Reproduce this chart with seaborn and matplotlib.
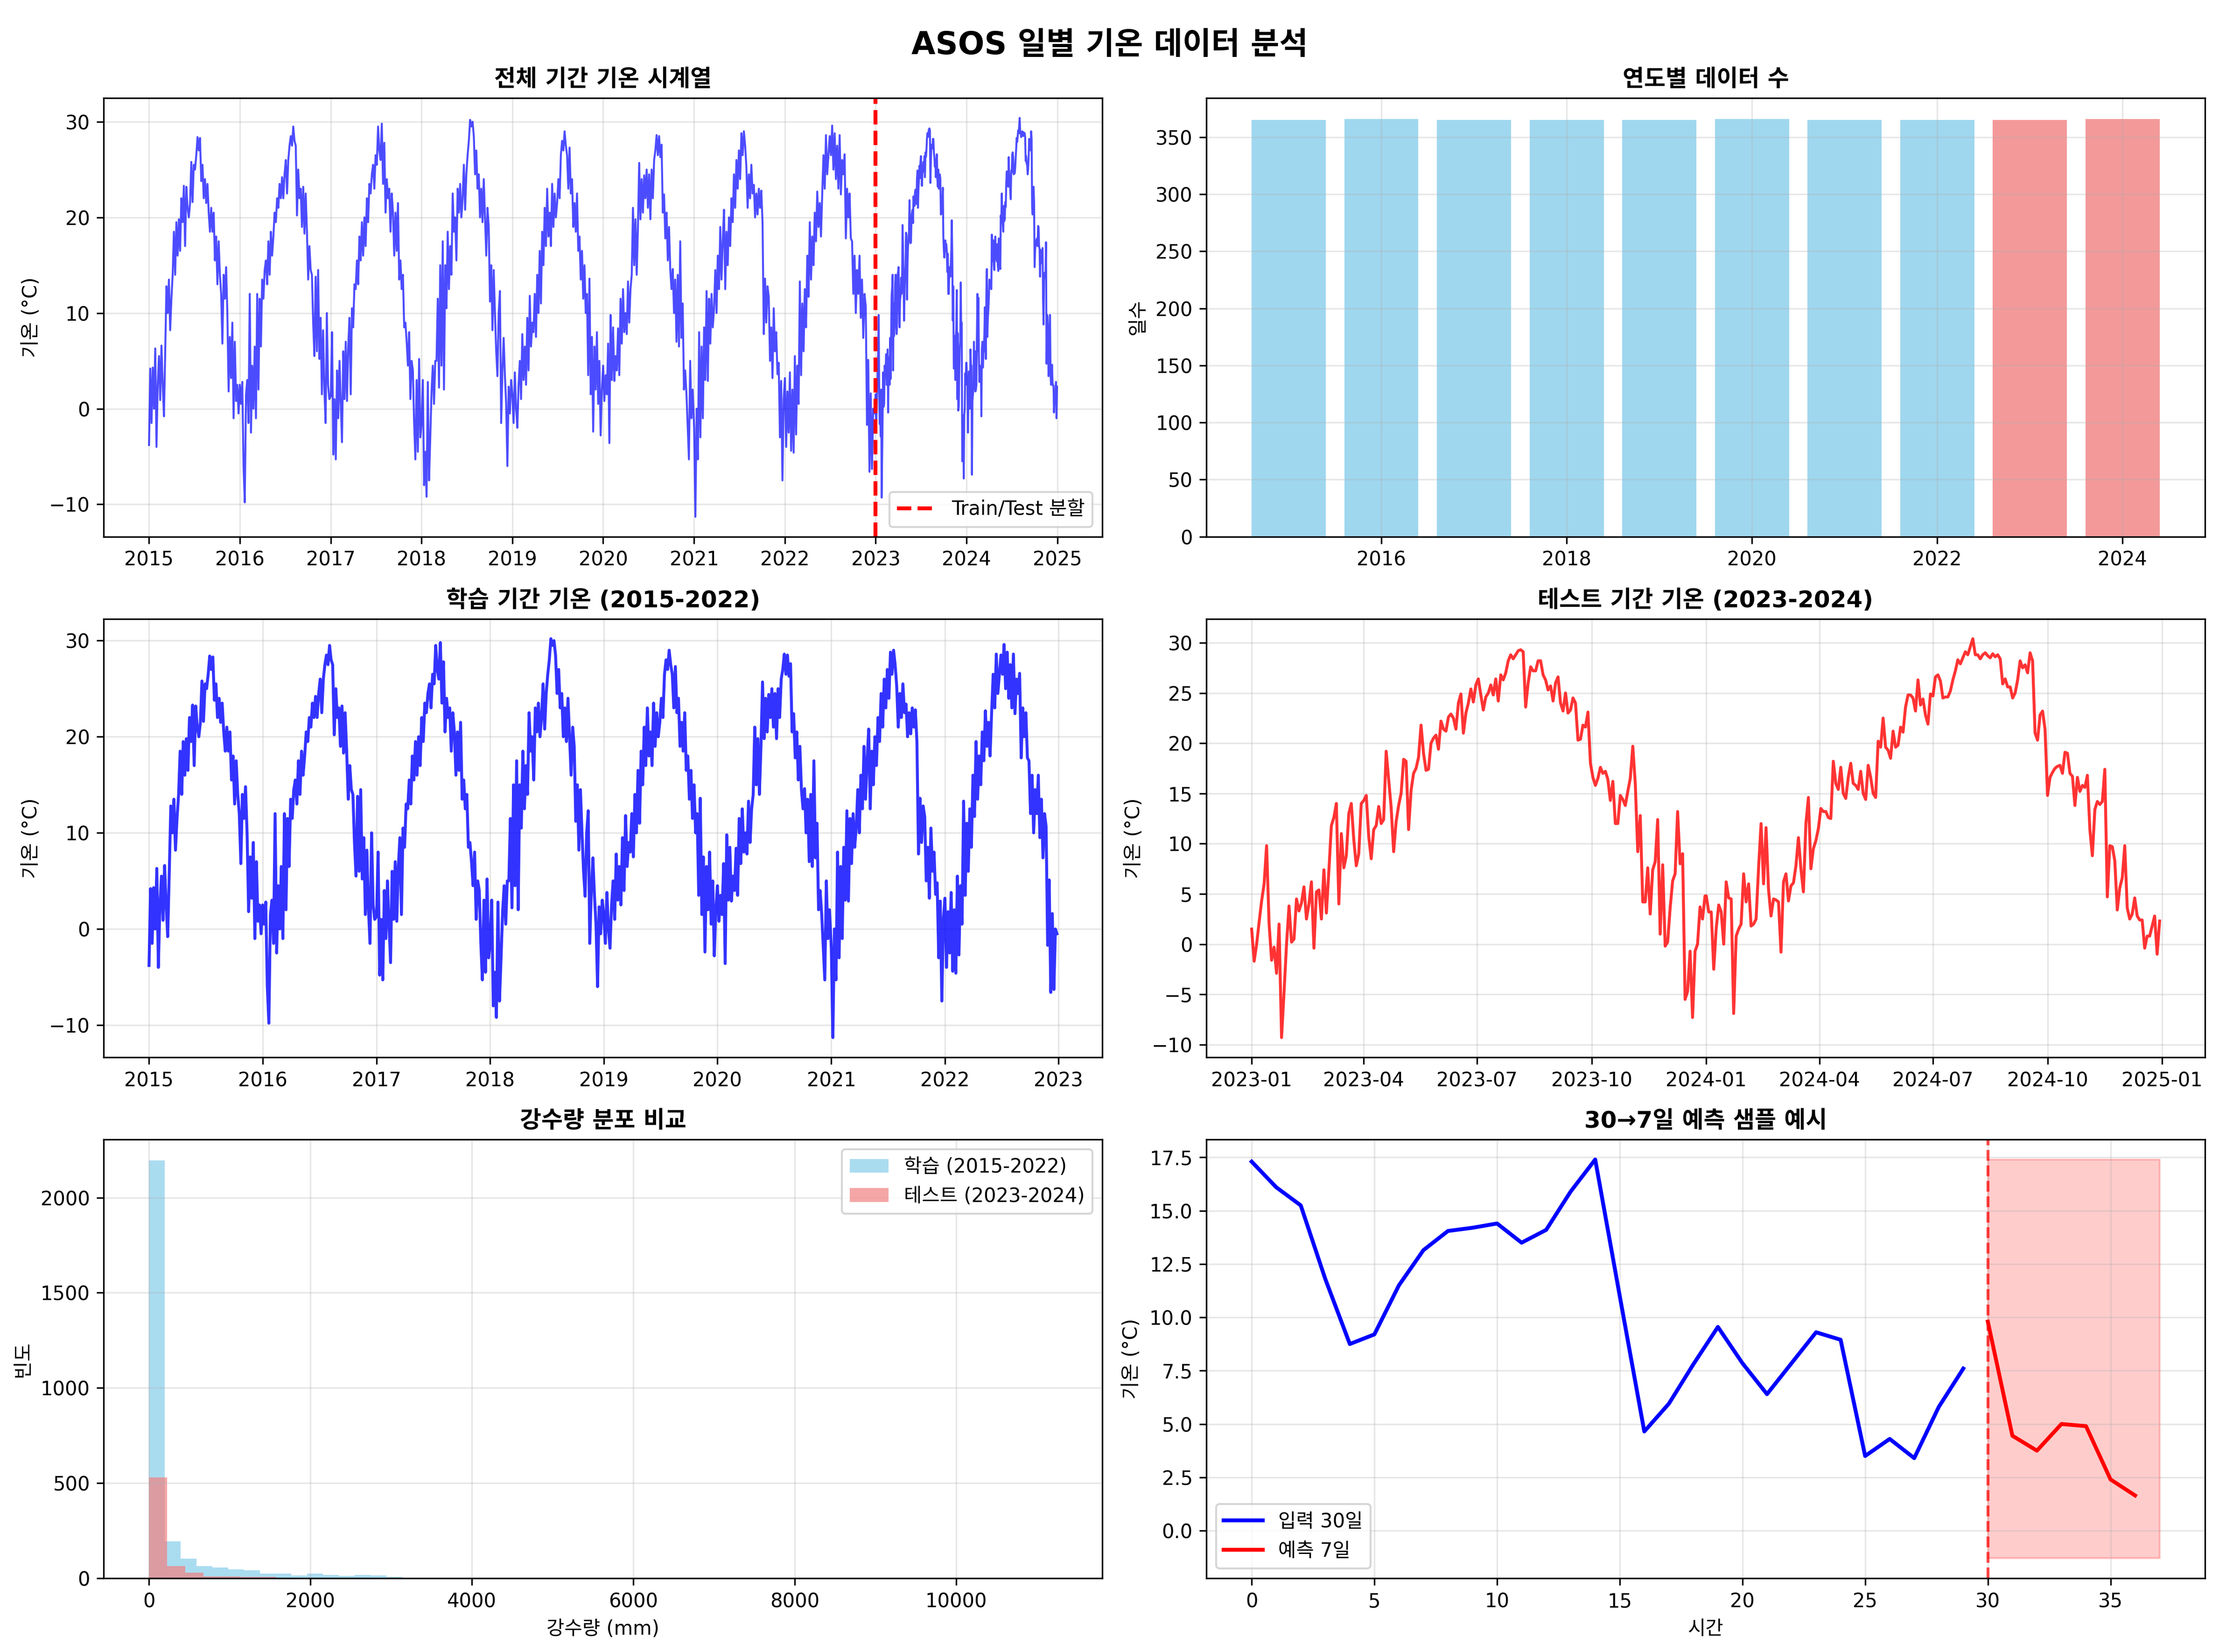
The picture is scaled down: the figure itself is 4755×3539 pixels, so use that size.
import numpy as np
import pandas as pd
import matplotlib
matplotlib.use("Agg")
import matplotlib.pyplot as plt
import seaborn as sns

plt.rcParams['font.family'] = ['DejaVu Sans', 'Noto Sans CJK KR']
plt.rcParams['axes.unicode_minus'] = True

# ---------------- DATA ----------------
# Daily mean temperature, read every 5 days (training period 2015-2022)
temp_2015 = [-3.8, 4.2, -1.5, 4.3, 0.0, 6.3, -4.0, 2.5, 5.5, 0.9, 6.6, 2.5,
             -0.8, 5.8, 12.8, 10.0, 13.5, 8.2, 11.5, 14.0, 18.5, 14.0, 19.5, 16.0,
             19.8, 16.5, 22.0, 19.5, 23.3, 17.0, 23.2, 21.0, 20.0, 21.5, 25.8, 21.6,
             25.5, 25.0, 26.5, 28.4, 27.0, 28.3, 23.8, 25.5, 22.0, 24.0, 21.5, 23.5,
             20.5, 18.5, 21.0, 18.5, 20.5, 15.5, 18.0, 13.0, 17.5, 14.0, 12.0, 6.8,
             14.0, 11.5, 14.8, 10.0, 1.8, 7.5, 3.2, 9.0, -1.0, 7.0, 0.8, 2.5, -0.5]
temp_2016 = [2.5, 0.5, 2.8, -6.0, -9.8, 1.5, 3.0, -1.5, 12.0, -2.5, 4.5, 0.0,
             6.5, -1.0, 12.0, 2.0, 11.5, 6.5, 13.5, 11.5, 14.5, 15.5, 13.0, 17.5,
             14.0, 18.5, 16.0, 18.0, 20.5, 19.5, 22.0, 21.0, 23.5, 22.0, 24.2, 22.0,
             24.5, 26.0, 22.5, 26.0, 27.5, 28.5, 27.5, 29.5, 28.0, 27.5, 20.2, 25.0,
             22.0, 23.0, 19.0, 23.2, 18.3, 22.5, 18.5, 13.5, 17.0, 14.5, 14.0, 9.0,
             5.5, 13.8, 6.0, 14.5, 5.2, 9.5, 1.5, 8.2, 2.0, -1.5, 10.0, 2.5, 1.0]
temp_2017 = [1.3, 8.0, -4.8, 1.0, -5.3, 4.0, -1.0, 5.0, 0.5, -3.5, 6.0, 1.0,
             7.0, 0.8, 6.5, 9.5, 1.5, 10.5, 8.5, 13.0, 12.5, 15.5, 13.0, 18.0,
             15.5, 19.5, 16.0, 20.0, 17.0, 22.0, 19.5, 23.5, 22.5, 24.5, 25.5, 23.0,
             26.5, 25.5, 29.5, 27.0, 26.0, 29.8, 23.5, 27.8, 20.5, 24.0, 22.0, 23.0,
             18.5, 22.5, 20.5, 16.0, 20.5, 16.5, 21.5, 13.5, 15.5, 12.5, 14.0, 8.5,
             9.0, 7.0, 4.5, 8.0, 1.0, 5.0, 4.0, -1.5, -5.3, 3.0, -4.5, 5.2, -3.0]
temp_2018 = [-1.5, 3.0, -8.0, -4.5, -9.2, 2.8, -7.5, -3.0, 1.8, 4.5, 0.5, 5.0,
             5.0, 11.5, 2.2, 15.0, 4.5, 17.5, 2.0, 15.0, 10.5, 18.5, 12.5, 17.0,
             14.0, 22.5, 18.5, 20.0, 15.5, 23.0, 20.5, 23.5, 20.0, 22.0, 25.5, 20.8,
             24.5, 26.5, 28.0, 30.2, 29.5, 30.0, 28.5, 24.5, 27.0, 23.0, 24.5, 20.0,
             23.0, 19.5, 24.0, 20.0, 16.0, 21.0, 19.0, 11.2, 15.0, 8.2, 14.5, 10.0,
             6.0, 3.4, 10.0, 12.3, -1.5, 4.0, 7.4, 3.5, 0.5, -6.0, 2.3, -0.5, 3.0]
temp_2019 = [1.5, -1.5, 3.8, 0.0, -2.0, 2.5, 5.0, 1.0, 7.8, 3.0, 6.5, 2.5,
             9.5, 4.0, 11.8, 6.5, 9.0, 8.0, 12.0, 7.5, 14.0, 10.0, 16.5, 11.0,
             18.5, 15.0, 21.0, 17.0, 23.0, 18.0, 20.5, 17.0, 23.5, 19.0, 22.5, 20.0,
             21.5, 24.0, 22.0, 26.5, 28.0, 27.0, 29.0, 27.5, 26.5, 23.0, 27.3, 22.5,
             24.0, 19.0, 21.5, 18.5, 22.5, 16.5, 18.0, 13.5, 16.5, 11.5, 15.0, 10.0,
             12.0, 3.5, 13.6, 1.5, 7.5, -2.4, 6.5, 2.0, 8.0, 0.5, 5.0, -2.8, 2.0]
temp_2020 = [4.5, 0.8, 3.5, 1.5, 6.8, -3.6, 9.8, 3.0, 8.5, 2.9, 5.5, 4.0,
             8.4, 3.5, 11.5, 6.8, 12.5, 8.0, 10.0, 7.8, 13.3, 9.0, 12.5, 14.0,
             21.0, 15.0, 19.8, 14.0, 19.0, 25.7, 19.8, 24.0, 20.5, 24.4, 22.0, 25.0,
             21.0, 24.5, 19.8, 25.0, 22.0, 26.0, 27.0, 28.6, 26.5, 28.5, 26.3, 27.6,
             20.5, 22.4, 17.8, 20.5, 15.5, 19.0, 14.5, 12.5, 14.6, 10.0, 13.5, 7.0,
             14.0, 6.5, 17.5, 7.4, 11.0, 2.0, 4.0, 1.6, -1.8, -5.3, 5.0, -1.0, 2.0]
temp_2021 = [-2.0, -11.3, 0.0, -5.3, 8.0, -3.0, 6.5, -1.0, 8.5, 3.0, 12.3, 2.9,
             11.5, 6.8, 12.0, 8.5, 10.5, 14.5, 10.0, 16.0, 12.5, 19.0, 13.5, 17.5,
             20.8, 12.5, 18.5, 15.0, 20.0, 17.0, 22.0, 19.5, 24.5, 21.0, 26.0, 23.0,
             27.0, 24.0, 28.8, 26.5, 29.0, 27.5, 25.3, 21.0, 24.5, 22.0, 25.5, 22.5,
             23.4, 20.0, 22.5, 20.3, 23.0, 21.0, 22.8, 19.5, 7.8, 13.6, 9.0, 12.8,
             11.7, 5.0, 8.5, 3.2, 10.5, 6.0, 8.0, 3.6, 4.8, -3.0, 2.9, -7.5, 1.0]
temp_2022 = [3.2, -4.0, 1.8, -2.5, 3.8, -4.4, 2.0, -4.6, 5.5, -2.7, 4.5, 0.5,
             13.3, 3.5, 11.0, 6.0, 12.5, 8.5, 16.0, 11.7, 19.5, 13.5, 18.0, 15.0,
             20.5, 17.5, 22.7, 19.0, 21.5, 18.0, 22.5, 26.5, 23.0, 28.6, 24.5, 26.5,
             28.5, 26.5, 29.6, 25.0, 28.8, 24.0, 27.5, 23.0, 28.6, 22.4, 26.0, 24.5,
             26.6, 17.8, 23.0, 20.0, 22.5, 17.8, 17.5, 12.0, 16.0, 10.0, 14.5, 12.0,
             16.0, 9.5, 13.5, 7.4, 12.0, 10.7, -1.7, 5.1, -6.6, 1.6, -6.3, 0.0, -0.5]
train_years = [2015, 2016, 2017, 2018, 2019, 2020, 2021, 2022]
train_by_year = [temp_2015, temp_2016, temp_2017, temp_2018,
                 temp_2019, temp_2020, temp_2021, temp_2022]

# Test period, read every 2 days
temp_2023 = [1.5, -1.7, 0.0, 2.2, 4.3, 6.0, 9.8, 2.0, -1.6, -0.3,
             -2.9, 2.0, -9.3, -4.8, 0.0, 3.8, 0.2, 0.5, 4.5, 3.3,
             4.1, 5.7, 2.5, 4.0, 6.2, -0.4, 5.2, 5.4, 2.5, 7.4,
             3.1, 7.3, 11.8, 12.6, 14.0, 4.0, 11.0, 7.6, 8.8, 13.0,
             14.0, 10.4, 7.8, 9.0, 14.0, 14.3, 14.8, 10.7, 8.5, 11.4,
             11.8, 13.7, 12.0, 12.4, 19.2, 16.4, 13.6, 9.2, 12.2, 13.8,
             15.0, 18.4, 18.2, 11.4, 15.3, 17.0, 17.5, 18.6, 21.8, 19.0,
             17.3, 17.4, 20.0, 20.5, 20.8, 19.4, 22.2, 21.4, 21.2, 22.6,
             22.9, 22.5, 21.4, 24.0, 24.9, 21.0, 23.0, 24.0, 25.4, 24.1,
             25.8, 26.4, 24.8, 23.3, 24.6, 25.0, 25.8, 24.8, 26.4, 24.2,
             26.8, 26.3, 27.0, 28.2, 28.8, 28.4, 28.8, 29.2, 29.3, 29.1,
             23.6, 26.0, 27.6, 27.2, 27.2, 28.2, 28.2, 26.8, 26.3, 25.3,
             25.7, 24.2, 26.0, 26.6, 24.0, 23.2, 25.0, 23.0, 23.3, 24.5,
             24.0, 20.3, 20.4, 21.8, 21.6, 23.1, 18.0, 16.6, 15.8, 16.5,
             17.6, 17.0, 17.2, 16.4, 14.3, 16.2, 12.0, 12.0, 14.8, 14.4,
             13.8, 15.2, 16.5, 19.7, 16.0, 9.2, 12.8, 4.2, 4.2, 7.6,
             3.0, 7.4, 8.2, 12.4, 1.0, 7.9, -0.2, 0.2, 3.6, 6.3,
             7.0, 13.2, 8.0, 9.0, -5.5, -4.7, -0.7, -7.3, -0.7, 0.0,
             3.7, 2.5, 4.8]
temp_2024 = [4.8, 3.2, 3.2, -2.5, 1.6, 3.9, 3.2, 0.0, 6.2, 4.6,
             4.5, -6.9, 0.8, 1.5, 2.0, 7.0, 4.2, 6.0, 1.8, 2.0,
             2.5, 7.6, 12.0, 6.0, 11.6, 5.4, 2.8, 4.5, 4.4, 4.2,
             -0.8, 6.2, 7.0, 4.3, 5.8, 6.1, 7.8, 10.6, 7.5, 5.2,
             12.0, 14.6, 7.5, 9.5, 10.3, 11.5, 13.5, 13.2, 13.2, 12.6,
             12.5, 18.2, 16.0, 15.4, 17.6, 15.0, 14.5, 16.6, 18.0, 16.0,
             15.8, 15.4, 17.2, 15.0, 14.4, 17.8, 16.6, 15.0, 14.6, 20.2,
             19.6, 22.5, 19.6, 19.3, 18.5, 21.2, 19.6, 19.8, 21.6, 21.1,
             23.6, 24.8, 24.8, 24.5, 23.2, 26.3, 23.8, 24.4, 22.8, 21.9,
             24.9, 24.7, 26.6, 26.8, 26.2, 24.5, 24.6, 24.6, 25.2, 26.3,
             27.2, 28.3, 27.9, 28.5, 29.1, 28.8, 29.6, 30.4, 28.8, 28.8,
             28.4, 28.8, 29.0, 28.7, 28.5, 28.9, 28.6, 28.8, 28.4, 25.9,
             26.4, 25.6, 25.6, 24.5, 25.0, 26.3, 28.2, 27.5, 27.8, 27.0,
             29.0, 28.2, 21.0, 20.3, 22.8, 23.2, 21.4, 14.8, 16.6, 17.1,
             17.5, 17.7, 17.8, 17.0, 19.1, 19.0, 17.0, 16.7, 13.8, 16.6,
             15.2, 15.8, 15.6, 16.8, 11.4, 8.8, 13.4, 14.2, 13.9, 14.2,
             17.4, 4.7, 9.8, 9.7, 8.3, 3.4, 5.6, 6.6, 9.8, 3.6,
             2.5, 3.0, 4.6, 2.8, 2.4, 2.4, -0.4, 0.8, 0.8, 1.8,
             2.8, -1.0, 2.3]
test_years = [2023, 2024]
test_by_year = [temp_2023, temp_2024]

# Number of records per year
count_years = [2015, 2016, 2017, 2018, 2019, 2020, 2021, 2022, 2023, 2024]
count_days = [365, 366, 365, 365, 365, 366, 365, 365, 365, 366]
count_split = ['train'] * 8 + ['test'] * 2

# Precipitation histograms (50 bins each)
precip_bins = 50
precip_train_max = 9800
precip_test_max = 11250
precip_train_counts = [2195, 195, 104, 63, 56, 48, 41, 24, 24, 15,
                       24, 17, 13, 17, 15, 7, 3, 2, 2, 1,
                       1, 0, 1, 1, 0, 1, 0, 0, 0, 0,
                       0, 0, 0, 0, 0, 0, 0, 0, 0, 0,
                       0, 0, 0, 0, 0, 0, 0, 0, 0, 1]
precip_test_counts = [530, 63, 30, 11, 11, 7, 7, 4, 4, 4,
                      1, 1, 1, 1, 2, 1, 0, 0, 0, 0,
                      0, 0, 0, 0, 0, 0, 0, 0, 0, 0,
                      0, 0, 0, 0, 0, 0, 0, 0, 0, 0,
                      0, 0, 0, 0, 0, 0, 0, 0, 0, 1]

# 30 -> 7 day sample
sample_input = [17.3, 16.1, 15.25, 11.8, 8.75, 9.2, 11.5, 13.15, 14.05, 14.2,
                14.4, 13.5, 14.1, 15.9, 17.4, 11.0, 4.65, 5.95, 7.8, 9.55,
                7.85, 6.4, 7.85, 9.3, 8.95, 3.5, 4.3, 3.4, 5.8, 7.6]
sample_target = [9.8, 4.45, 3.75, 5.0, 4.9, 2.4, 1.65]
target_band = [-1.3, 17.4]

# ---------------- BUILD FRAMES ----------------
train_frames = []
for y, vals in zip(train_years, train_by_year):
    d = pd.date_range(f"{y}-01-01", periods=len(vals), freq="5D")
    train_frames.append(pd.DataFrame({"date": d, "temp": vals}))
train_df = pd.concat(train_frames, ignore_index=True)

test_frames = []
for y, vals in zip(test_years, test_by_year):
    d = pd.date_range(f"{y}-01-01", periods=len(vals), freq="2D")
    test_frames.append(pd.DataFrame({"date": d, "temp": vals}))
test_df = pd.concat(test_frames, ignore_index=True)
full_df = pd.concat([train_df, test_df], ignore_index=True)

count_df = pd.DataFrame({"year": count_years, "days": count_days, "split": count_split})

tr_w = precip_train_max / precip_bins
te_w = precip_test_max / precip_bins
tr_hist = pd.DataFrame({"precip": [tr_w * (i + 0.5) for i in range(precip_bins)],
                        "n": precip_train_counts})
te_hist = pd.DataFrame({"precip": [te_w * (i + 0.5) for i in range(precip_bins)],
                        "n": precip_test_counts})

# ---------------- FIGURE ----------------
fig, axes = plt.subplots(3, 2, figsize=(4755 / 300, 3539 / 300), dpi=300)
fig.subplots_adjust(left=0.0467, right=0.9937, bottom=0.0446, top=0.9407,
                    wspace=0.104, hspace=0.187)
fig.suptitle("ASOS 일별 기온 데이터 분석", fontsize=16, fontweight="bold", y=0.982)

# (1) full series
ax = axes[0, 0]
sns.lineplot(data=full_df, x="date", y="temp", color="blue", alpha=0.7,
             linewidth=1, ax=ax, errorbar=None)
ax.axvline(pd.Timestamp("2023-01-01"), color="red", linestyle="--",
           linewidth=2, label="Train/Test 분할")
ax.set_title("전체 기간 기온 시계열", fontsize=12, fontweight="bold")
ax.set_xlabel("")
ax.set_ylabel("기온 (°C)")
ax.legend(loc="lower right")
ax.grid(True, alpha=0.3)

# (2) yearly counts
ax = axes[0, 1]
sns.barplot(data=count_df, x="year", y="days", hue="split",
            palette={"train": "skyblue", "test": "lightcoral"},
            native_scale=True, dodge=False, saturation=1, alpha=0.8,
            errorbar=None, legend=False, width=0.8, ax=ax)
ax.set_title("연도별 데이터 수", fontsize=12, fontweight="bold")
ax.set_xlabel("")
ax.set_ylabel("일수")
ax.grid(True, alpha=0.3)

# (3) train series
ax = axes[1, 0]
sns.lineplot(data=train_df, x="date", y="temp", color="blue", alpha=0.8,
             linewidth=1.5, ax=ax, errorbar=None)
ax.set_title("학습 기간 기온 (2015-2022)", fontsize=12, fontweight="bold")
ax.set_xlabel("")
ax.set_ylabel("기온 (°C)")
ax.grid(True, alpha=0.3)

# (4) test series
ax = axes[1, 1]
sns.lineplot(data=test_df, x="date", y="temp", color="red", alpha=0.8,
             linewidth=1.5, ax=ax, errorbar=None)
ax.set_title("테스트 기간 기온 (2023-2024)", fontsize=12, fontweight="bold")
ax.set_xlabel("")
ax.set_ylabel("기온 (°C)")
ax.grid(True, alpha=0.3)

# (5) precipitation histograms
ax = axes[2, 0]
sns.histplot(data=tr_hist, x="precip", weights="n", bins=precip_bins,
             binrange=(0, precip_train_max),
             color="skyblue", alpha=0.7, linewidth=0, label="학습 (2015-2022)", ax=ax)
sns.histplot(data=te_hist, x="precip", weights="n", bins=precip_bins,
             binrange=(0, precip_test_max),
             color="lightcoral", alpha=0.7, linewidth=0, label="테스트 (2023-2024)", ax=ax)
ax.set_title("강수량 분포 비교", fontsize=12, fontweight="bold")
ax.set_xlabel("강수량 (mm)")
ax.set_ylabel("빈도")
ax.legend(loc="upper right")
ax.grid(True, alpha=0.3)

# (6) 30 -> 7 sample
ax = axes[2, 1]
in_x = list(range(len(sample_input)))
tg_x = list(range(len(sample_input), len(sample_input) + len(sample_target)))
sns.lineplot(x=in_x, y=sample_input, color="blue", linewidth=2,
             label="입력 30일", ax=ax)
sns.lineplot(x=tg_x, y=sample_target, color="red", linewidth=2,
             label="예측 7일", ax=ax)
ax.axvline(len(sample_input), color="red", linestyle="--", alpha=0.7)
ax.fill_between([len(sample_input), len(sample_input) + len(sample_target)],
                target_band[0], target_band[1], color="red", alpha=0.2)
ax.set_title("30→7일 예측 샘플 예시", fontsize=12, fontweight="bold")
ax.set_xlabel("시간")
ax.set_ylabel("기온 (°C)")
ax.legend(loc="lower left")
ax.grid(True, alpha=0.3)

fig.savefig("out.png", dpi=300)
